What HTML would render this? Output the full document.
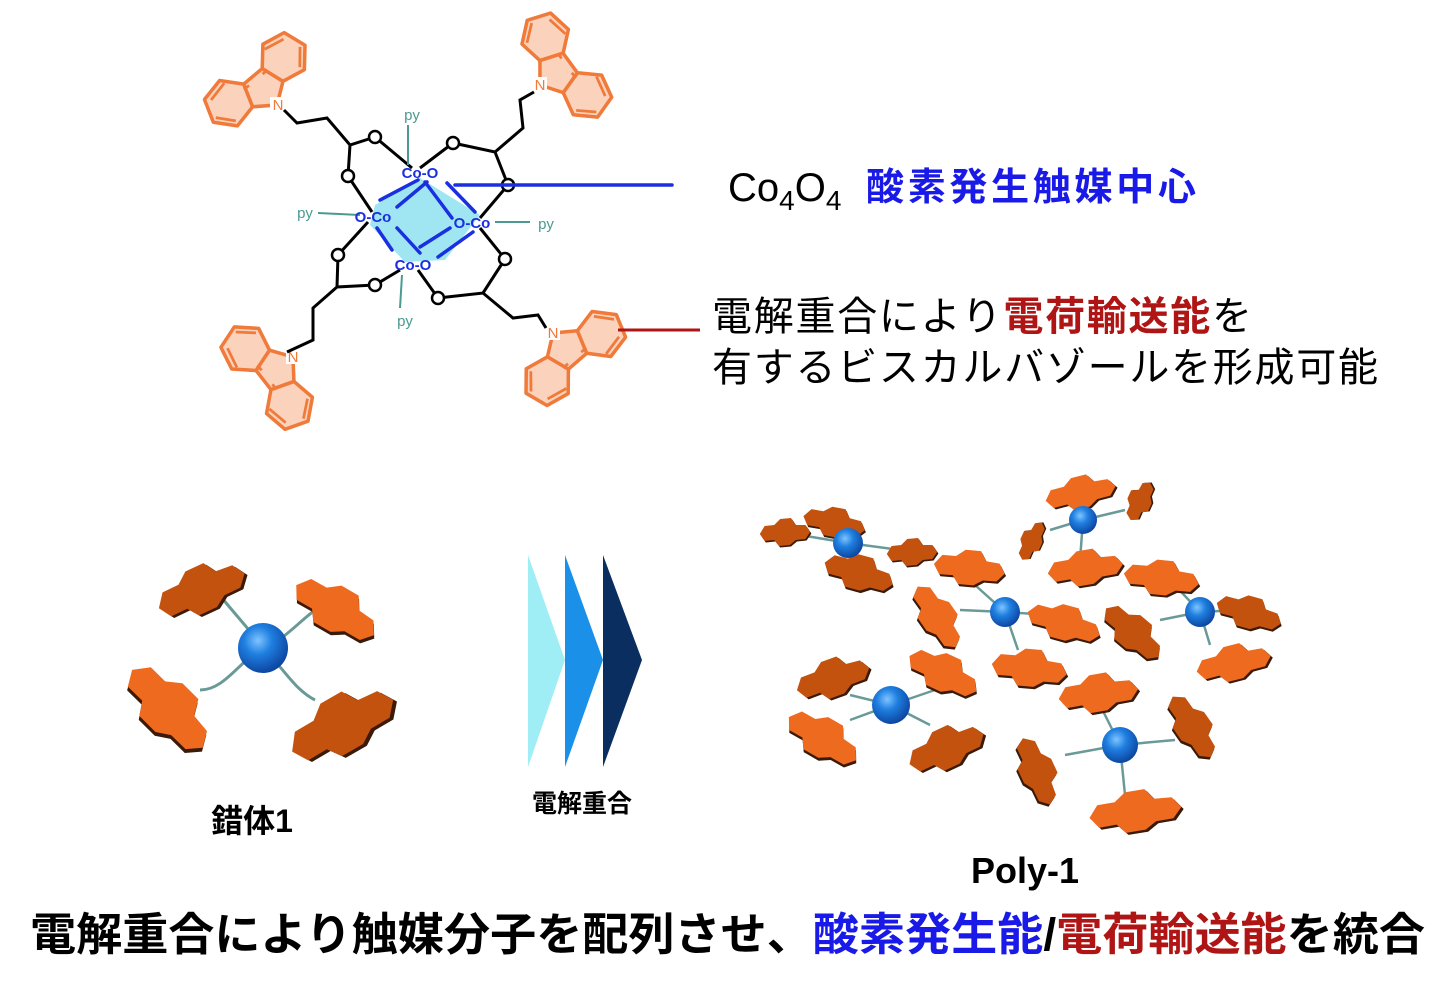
<!DOCTYPE html>
<html><head><meta charset="utf-8">
<style>
html,body{margin:0;padding:0;background:#fff;}
svg{display:block;}
text{font-family:"Liberation Sans","Noto Sans CJK JP",sans-serif;}
</style></head>
<body>
<svg width="1455" height="994" viewBox="0 0 1455 994" xmlns="http://www.w3.org/2000/svg">
<defs>
  <radialGradient id="ball" cx="0.4" cy="0.35" r="0.7">
    <stop offset="0" stop-color="#7fc4ff"/>
    <stop offset="0.4" stop-color="#1f7fe0"/>
    <stop offset="1" stop-color="#0b3f9a"/>
  </radialGradient>
  <g id="cz" stroke="#f07a3a" stroke-width="3.2" stroke-linejoin="round">
    <polygon points="-18,-13 -11,-34 -25.7,-50.6 -47.3,-46.2 -54.4,-25.2 -39.7,-8.6" fill="#fbd3bd"/>
    <polygon points="18,-13 11,-34 25.7,-50.6 47.3,-46.2 54.4,-25.2 39.7,-8.6" fill="#fbd3bd"/>
    <polygon points="0,0 -18,-13 -11,-34 11,-34 18,-13" fill="#fbd3bd"/>
    <path d="M-24,-46 L-43,-42 M-50,-27 L-38,-13 M24,-46 L43,-42 M50,-27 L38,-13 M-14,-30 L-8,-30 M14,-30 L8,-30" fill="none" stroke-width="2.5"/>
  </g>
  <g id="bp">
    <polygon points="-42,8 -34,-8 -18,-10 -8,-22 10,-24 18,-10 34,-10 42,4 34,18 18,20 8,30 -10,32 -18,20 -34,22" fill="#3a1a08" transform="translate(2,3)"/>
    <polygon points="-42,8 -34,-8 -18,-10 -8,-22 10,-24 18,-10 34,-10 42,4 34,18 18,20 8,30 -10,32 -18,20 -34,22" fill="#ee6a1e"/>
  </g>
  <g id="bpd">
    <polygon points="-42,8 -34,-8 -18,-10 -8,-22 10,-24 18,-10 34,-10 42,4 34,18 18,20 8,30 -10,32 -18,20 -34,22" fill="#3a1a08" transform="translate(2,3)"/>
    <polygon points="-42,8 -34,-8 -18,-10 -8,-22 10,-24 18,-10 34,-10 42,4 34,18 18,20 8,30 -10,32 -18,20 -34,22" fill="#c4520f"/>
  </g>
</defs>

<!-- carbazoles -->
<use href="#cz" transform="translate(277,105) rotate(-40) scale(1.1)"/>
<use href="#cz" transform="translate(540,85) rotate(54) scale(1.1)"/>
<use href="#cz" transform="translate(293,357) rotate(-128) scale(1.1)"/>
<use href="#cz" transform="translate(553,333) rotate(139) scale(1.1)"/>
<g font-size="15" fill="#f07a3a" text-anchor="middle">
  <rect x="270" y="97" width="14" height="15" fill="#fff"/><text x="278" y="110">N</text>
  <rect x="533" y="77" width="14" height="15" fill="#fff"/><text x="540" y="90">N</text>
  <rect x="286" y="349" width="14" height="15" fill="#fff"/><text x="293" y="362">N</text>
  <rect x="546" y="325" width="14" height="15" fill="#fff"/><text x="553" y="338">N</text>
</g>

<!-- chains & bonds -->
<g stroke="#000" stroke-width="3" fill="none">
  <path d="M284,110 L297,123 L327,118 L350,145 L375,137 M350,145 L348,176"/>
  <path d="M534,92 L520,100 L523,128 L495,152 L453,143 M495,152 L508,185"/>
  <path d="M287,352 L313,340 L313,308 L337,287 L375,285 M337,287 L338,255"/>
  <path d="M546,328 L538,315 L513,318 L483,293 L438,298 M483,293 L505,259"/>
  <path d="M412,168 L375,137 M420,168 L453,143 M372,212 L348,176 M368,222 L338,255 M480,218 L508,185 M480,228 L505,259 M400,270 L375,285 M418,270 L438,298"/>
</g>
<g fill="#fff" stroke="#000" stroke-width="2.5">
  <circle cx="375" cy="137" r="6"/><circle cx="348" cy="176" r="6"/>
  <circle cx="453" cy="143" r="6"/><circle cx="508" cy="185" r="6"/>
  <circle cx="338" cy="255" r="6"/><circle cx="375" cy="285" r="6"/>
  <circle cx="438" cy="298" r="6"/><circle cx="505" cy="259" r="6"/>
</g>
<!-- py -->
<g stroke="#4a9a90" stroke-width="2">
  <path d="M408,125 L408,165 M318,213 L360,215 M495,222 L530,222 M402,275 L400,308"/>
</g>
<g font-size="15" fill="#4a9a90" text-anchor="middle">
  <text x="412" y="120">py</text><text x="305" y="218">py</text>
  <text x="546" y="229">py</text><text x="405" y="326">py</text>
</g>
<!-- cube -->
<polygon points="375,205 420,178 480,215 445,260 405,262 370,225" fill="#9fe6f2"/>
<g stroke="#1a2fe0" stroke-width="3.5" fill="none" stroke-linecap="round">
  <path d="M380,200 L418,180 M397,207 L427,182 M425,182 L452,218 M447,183 L475,212 M377,228 L392,250 M397,228 L420,253 M420,247 L450,228 M438,257 L473,232"/>
  <path d="M455,185 L672,185"/>
</g>
<g font-size="15" fill="#1a2fe0" font-weight="bold" text-anchor="middle">
  <text x="420" y="178">Co-O</text><text x="373" y="222">O-Co</text>
  <text x="472" y="228">O-Co</text><text x="413" y="270">Co-O</text>
</g>
<!-- red connector -->
<path d="M618,330 L700,330" stroke="#b01515" stroke-width="3"/>

<!-- right labels -->
<text x="728" y="201" font-size="40" fill="#000">Co<tspan font-size="28" dy="9">4</tspan><tspan dy="-9">O</tspan><tspan font-size="28" dy="9">4</tspan></text>
<text x="866" y="200" font-size="38" font-weight="bold" fill="#1a1ae8" textLength="330">酸素発生触媒中心</text>
<text x="712" y="330" font-size="40" fill="#000" textLength="540">電解重合により<tspan fill="#b01515" font-weight="bold">電荷輸送能</tspan>を</text>
<text x="712" y="381" font-size="40" fill="#000" textLength="666">有するビスカルバゾールを形成可能</text>

<!-- complex 1 -->
<g stroke="#6a9a98" stroke-width="3" fill="none">
  <path d="M263,648 C250,630 240,620 222,598"/>
  <path d="M263,648 C285,640 300,620 318,608"/>
  <path d="M263,648 C240,660 225,690 200,690"/>
  <path d="M263,648 C285,670 295,690 315,700"/>
</g>
<use href="#bpd" transform="translate(200,586) rotate(-20) scale(1.1,0.85)"/>
<use href="#bp" transform="translate(338,606) rotate(35) scale(1.1,0.85)"/>
<use href="#bp" transform="translate(172,705) rotate(50) scale(1.25,1)"/>
<use href="#bpd" transform="translate(340,720) rotate(-25) scale(1.35,1.05)"/>
<circle cx="263" cy="648" r="25" fill="url(#ball)"/>
<text x="252" y="832" font-size="32" font-weight="bold" text-anchor="middle">錯体1</text>

<!-- chevrons -->
<polygon points="528,555 565,660 528,767" fill="#9feef5"/>
<polygon points="565,555 603,660 565,767" fill="#1a90e8"/>
<polygon points="603,555 642,660 603,767" fill="#0b2e60"/>
<text x="582" y="812" font-size="25" font-weight="bold" text-anchor="middle">電解重合</text>

<!-- Poly-1 network -->
<g stroke="#6a9a98" stroke-width="2.5" fill="none">
  <path d="M848,543 L800,535 M848,543 L900,550 M848,543 L830,510 M848,543 L860,565"/>
  <path d="M1083,520 L1050,530 M1083,520 L1125,510 M1083,520 L1080,560 M1083,520 L1083,500"/>
  <path d="M1005,612 L960,610 M1005,612 L1050,615 M1005,612 L975,585 M1005,612 L1018,650"/>
  <path d="M1200,612 L1160,620 M1200,612 L1240,610 M1200,612 L1170,580 M1200,612 L1210,645"/>
  <path d="M891,705 L850,695 M891,705 L935,690 M891,705 L850,720 M891,705 L930,725"/>
  <path d="M1120,745 L1065,755 M1120,745 L1175,740 M1120,745 L1100,705 M1120,745 L1125,795"/>
</g>
<use href="#bpd" transform="translate(785,530) scale(0.6,0.5)"/>
<use href="#bpd" transform="translate(835,520) rotate(15) scale(0.75,0.55)"/>
<use href="#bpd" transform="translate(860,570) rotate(20) scale(0.85,0.65)"/>
<use href="#bpd" transform="translate(912,550) scale(0.6,0.5)"/>
<use href="#bp" transform="translate(970,565) rotate(10) scale(0.85,0.65)"/>
<use href="#bpd" transform="translate(1030,540) rotate(-60) scale(0.5,0.4)"/>
<use href="#bp" transform="translate(1080,490) rotate(-10) scale(0.85,0.6)"/>
<use href="#bpd" transform="translate(1138,500) rotate(-60) scale(0.5,0.45)"/>
<use href="#bp" transform="translate(1085,565) rotate(-5) scale(0.9,0.65)"/>
<use href="#bp" transform="translate(1162,575) rotate(10) scale(0.9,0.65)"/>
<use href="#bp" transform="translate(940,615) rotate(60) scale(0.85,0.65)"/>
<use href="#bp" transform="translate(1065,620) rotate(20) scale(0.9,0.65)"/>
<use href="#bpd" transform="translate(1135,630) rotate(45) scale(0.85,0.65)"/>
<use href="#bpd" transform="translate(1250,610) rotate(20) scale(0.8,0.6)"/>
<use href="#bp" transform="translate(1233,660) rotate(-10) scale(0.9,0.65)"/>
<use href="#bp" transform="translate(945,670) rotate(30) scale(0.9,0.7)"/>
<use href="#bp" transform="translate(1030,665) rotate(10) scale(0.9,0.7)"/>
<use href="#bp" transform="translate(1098,690) rotate(-5) scale(0.95,0.7)"/>
<use href="#bpd" transform="translate(832,675) rotate(-15) scale(0.9,0.7)"/>
<use href="#bp" transform="translate(825,735) rotate(35) scale(0.95,0.75)"/>
<use href="#bpd" transform="translate(945,745) rotate(-20) scale(0.95,0.75)"/>
<use href="#bpd" transform="translate(1040,770) rotate(70) scale(0.85,0.65)"/>
<use href="#bpd" transform="translate(1195,725) rotate(60) scale(0.85,0.65)"/>
<use href="#bp" transform="translate(1135,808) rotate(-5) scale(1.1,0.75)"/>
<circle cx="848" cy="543" r="15" fill="url(#ball)"/>
<circle cx="1083" cy="520" r="14" fill="url(#ball)"/>
<circle cx="1005" cy="612" r="15" fill="url(#ball)"/>
<circle cx="1200" cy="612" r="15" fill="url(#ball)"/>
<circle cx="891" cy="705" r="19" fill="url(#ball)"/>
<circle cx="1120" cy="745" r="18" fill="url(#ball)"/>
<text x="1025" y="883" font-size="36" font-weight="bold" text-anchor="middle">Poly-1</text>

<!-- bottom caption -->
<text x="30" y="950" font-size="45" font-weight="bold" fill="#000" textLength="1395" lengthAdjust="spacingAndGlyphs">電解重合により触媒分子を配列させ、<tspan fill="#1a1ae8">酸素発生能</tspan>/<tspan fill="#b01515">電荷輸送能</tspan>を統合</text>
</svg>
</body></html>
